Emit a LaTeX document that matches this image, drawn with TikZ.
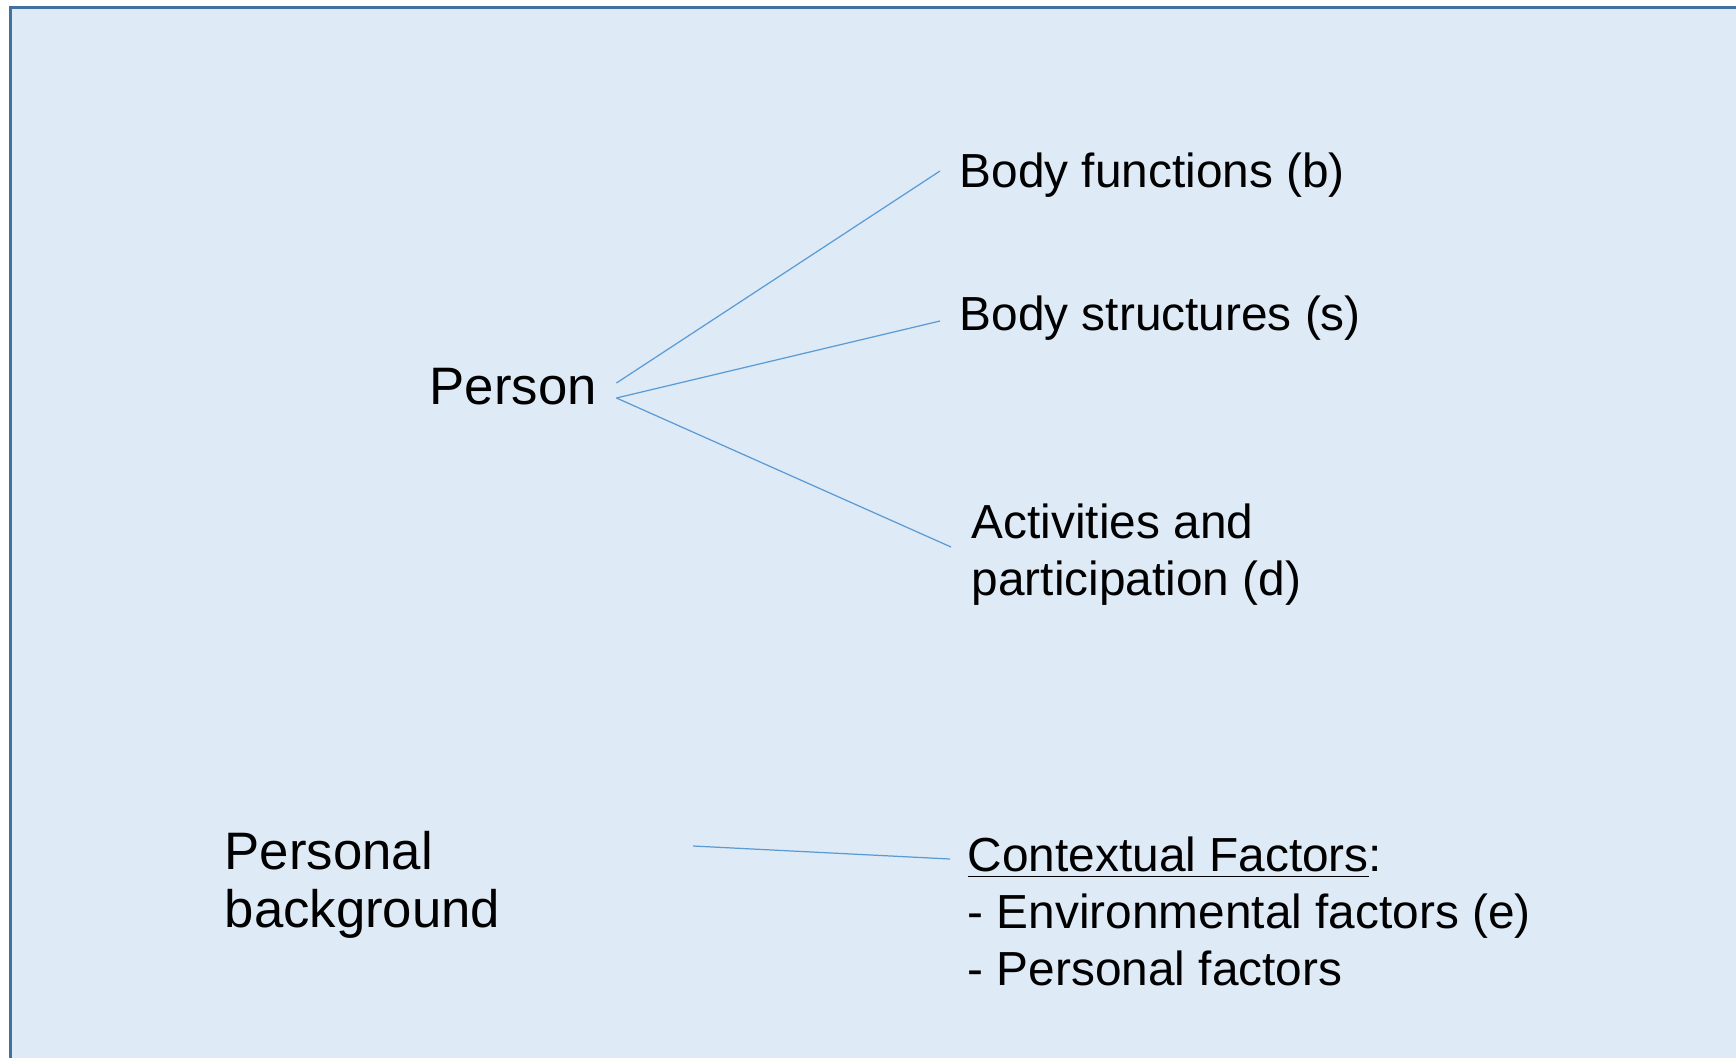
\documentclass[tikz,border=0pt]{standalone}
\usepackage{fontspec}
\setmainfont{Liberation Sans}
\usetikzlibrary{calc}

\definecolor{panelfill}{HTML}{DEEAF6}
\definecolor{panelline}{HTML}{41719C}
\definecolor{linkblue}{HTML}{5B9BD5}

\tikzset{
	bigtext/.style={font=\fontsize{15}{16.5}\selectfont, inner sep=0pt, anchor=base west, align=left},
	smalltext/.style={font=\fontsize{13.6}{16.2}\selectfont, inner sep=0pt, anchor=base west, align=left},
	link/.style={draw=linkblue, line width=0.35pt}
}

\begin{document}
\begin{tikzpicture}
		\useasboundingbox (0,0) rectangle (17.36,-10.57);
		\clip (0,0) rectangle (17.36,-10.57);
		% panel, runs off the right and bottom edges
		\draw[panelline, fill=panelfill, line width=0.9pt] (0.105,-0.073) rectangle (17.8,-10.9);

		% base west of a two or three line label sits on its last line
		\node[bigtext] (person) at (4.29,-4.04) {Person};
		\node[bigtext] (background) at (2.24,-9.27) {Personal\\background};
		\node[smalltext] (bodyfn) at (9.59,-1.88) {Body functions (b)};
		\node[smalltext] (bodystr) at (9.59,-3.30) {Body structures (s)};
		\node[smalltext] (activity) at (9.71,-5.95) {Activities and\\participation (d)};
		\node[smalltext] (context) at (9.67,-9.85) {\underline{Contextual Factors}:\\- Environmental factors (e)\\- Personal factors};

		\coordinate (pUp) at ($(person.base east) + (0.19,0.21)$);
		\coordinate (pLow) at ($(person.base east) + (0.19,0.06)$);
		\draw[link] (pUp) -- ($(bodyfn.base west) + (-0.19,0.17)$);
		\draw[link] (pLow) -- ($(bodystr.base west) + (-0.19,0.09)$);
		\draw[link] (pLow) -- ($(activity.base west) + (-0.20,0.48)$);
		\draw[link] ($(background.base west) + (4.69,0.81)$) -- ($(context.base west) + (-0.17,1.26)$);
	\end{tikzpicture}
\end{document}
